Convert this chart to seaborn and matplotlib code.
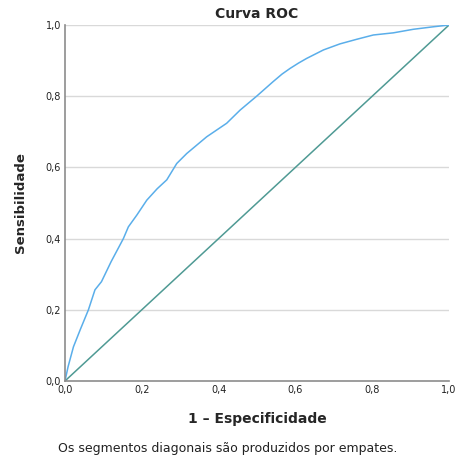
import matplotlib
matplotlib.use("Agg")
import matplotlib.pyplot as plt
import seaborn as sns
import pandas as pd
from matplotlib.ticker import FuncFormatter

fpr = [0.0, 0.008, 0.022, 0.040, 0.061, 0.078, 0.095, 0.120, 0.152, 0.165, 0.187,
       0.213, 0.240, 0.265, 0.291, 0.317, 0.369, 0.421, 0.456, 0.499, 0.542,
       0.565, 0.586, 0.608, 0.629, 0.673, 0.716, 0.760, 0.803, 0.855, 0.907, 0.959, 1.0]
tpr = [0.0, 0.040, 0.096, 0.145, 0.200, 0.256, 0.279, 0.335, 0.400, 0.433, 0.466,
       0.508, 0.540, 0.565, 0.611, 0.639, 0.686, 0.724, 0.761, 0.800, 0.841,
       0.862, 0.878, 0.893, 0.906, 0.930, 0.947, 0.960, 0.972, 0.978, 0.988, 0.995, 1.0]
ref_x = [0.0, 1.0]
ref_y = [0.0, 1.0]
ticks = [0.0, 0.2, 0.4, 0.6, 0.8, 1.0]

sns.set_style("white")
plt.rcParams['font.family'] = ['DejaVu Sans']

fig = plt.figure(figsize=(4.62, 4.59), dpi=100)
ax = fig.add_axes([0.1407, 0.170, 0.8312, 0.7755])

for t in ticks[1:]:
    ax.axhline(t, color="#d9d9d9", lw=1.0, zorder=0)

sns.lineplot(x=ref_x, y=ref_y, ax=ax, color="#4f9a94", lw=1.1, sort=False, estimator=None)
sns.lineplot(x=fpr, y=tpr, ax=ax, color="#5aaeea", lw=1.1, sort=False, estimator=None)

ax.set_xlim(0, 1)
ax.set_ylim(0, 1)
ax.set_xticks(ticks)
ax.set_yticks(ticks)
fmt = FuncFormatter(lambda v, p: f"{v:.1f}".replace(".", ","))
ax.xaxis.set_major_formatter(fmt)
ax.yaxis.set_major_formatter(fmt)
ax.tick_params(axis="both", length=0, labelsize=7, colors="#222222", pad=3)

for s in ["top", "right"]:
    ax.spines[s].set_visible(False)
for s in ["left", "bottom"]:
    ax.spines[s].set_color("#8c8c8c")
    ax.spines[s].set_linewidth(1.2)

ax.set_title("Curva ROC", fontsize=10, fontweight="bold", pad=5)
ax.set_xlabel("1 – Especificidade", fontsize=10, fontweight="bold", labelpad=12)
ax.set_ylabel("Sensibilidade", fontsize=9.5, fontweight="bold", labelpad=13)
fig.text(0.493, 0.008, "Os segmentos diagonais são produzidos por empates.",
         ha="center", va="bottom", fontsize=9, color="#222222")

fig.savefig("out.png", dpi=100)
